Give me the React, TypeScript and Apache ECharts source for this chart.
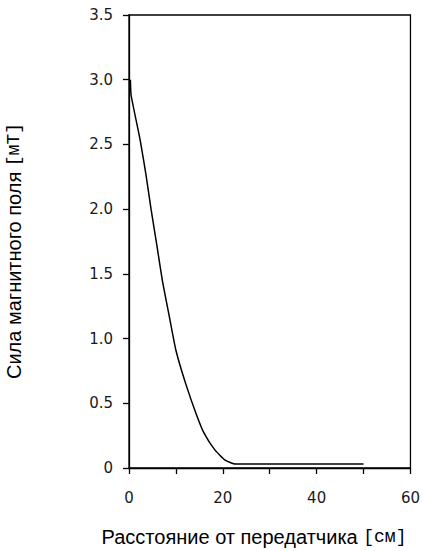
import React, { useEffect, useRef } from "react";
import * as echarts from "echarts";

const distanceCm = [0.3, 0.45, 2.4, 3.6, 4.7, 5.9, 7.15, 8.6, 10, 12.1, 14.5, 16, 18.3, 20.5, 22.7, 50];
const fieldMT = [3.0, 2.88, 2.53, 2.27, 2.0, 1.73, 1.44, 1.17, 0.91, 0.65, 0.4, 0.27, 0.14, 0.06, 0.03, 0.03];

const xTitle = "Расстояние от передатчика ";
const xUnit = "[см]";
const yTitle = "Сила магнитного поля ";
const yUnit = "[мТ]";

export default function App() {
  const ref = useRef<HTMLDivElement>(null);
  useEffect(() => {
    if (!ref.current) return;
    const chart = echarts.init(ref.current, null, { renderer: "svg" });
    const data = distanceCm.map((x, i) => [x, fieldMT[i]]);
    const tickFont = {
      color: "#1a1a1a",
      fontFamily: "DejaVu Sans, sans-serif",
      fontSize: 15,
    };
    chart.setOption({
      animation: false,
      backgroundColor: "#fff",
      grid: {
        left: 129,
        top: 15,
        width: 285,
        height: 453,
        show: true,
        borderColor: "#000",
        borderWidth: 1.3,
        backgroundColor: "transparent",
      },
      xAxis: {
        type: "value",
        min: 0,
        max: 60,
        interval: 10,
        splitLine: { show: false },
        axisLine: { lineStyle: { color: "#000", width: 1.3 } },
        axisTick: { inside: false, length: 6, lineStyle: { color: "#000", width: 1.3 } },
        axisLabel: {
          ...tickFont,
          margin: 22,
          formatter: (v: number) => (v % 20 === 0 ? String(v) : ""),
        },
      },
      yAxis: {
        type: "value",
        min: 0,
        max: 3.5,
        interval: 0.5,
        splitLine: { show: false },
        axisLine: { lineStyle: { color: "#000", width: 1.3 } },
        axisTick: { inside: false, length: 6, lineStyle: { color: "#000", width: 1.3 } },
        axisLabel: {
          ...tickFont,
          margin: 16,
          formatter: (v: number) => (v === 0 ? "0" : v.toFixed(1)),
        },
      },
      series: [
        {
          type: "line",
          data,
          showSymbol: false,
          smooth: 0.15,
          lineStyle: { color: "#000", width: 1.5 },
        },
      ],
      graphic: [
        {
          type: "text",
          x: 254,
          y: 537,
          style: {
            text: `{a|${xTitle}}{b|${xUnit}}`,
            align: "center",
            verticalAlign: "middle",
            rich: {
              a: { fontFamily: "Liberation Sans, Arial, sans-serif", fontSize: 20, fill: "#000" },
              b: { fontFamily: "Liberation Mono, monospace", fontSize: 18, fill: "#000" },
            },
          },
        },
        {
          type: "text",
          x: 14,
          y: 251,
          rotation: Math.PI / 2,
          style: {
            text: `{a|${yTitle}}{b|${yUnit}}`,
            align: "center",
            verticalAlign: "middle",
            rich: {
              a: { fontFamily: "Liberation Sans, Arial, sans-serif", fontSize: 20, fill: "#000" },
              b: { fontFamily: "Liberation Mono, monospace", fontSize: 18, fill: "#000" },
            },
          },
        },
      ],
    });
    return () => chart.dispose();
  }, []);
  return (
    <div
      ref={ref}
      style={{ position: "fixed", left: 0, top: 0, width: 423, height: 551, background: "#fff" }}
    />
  );
}
